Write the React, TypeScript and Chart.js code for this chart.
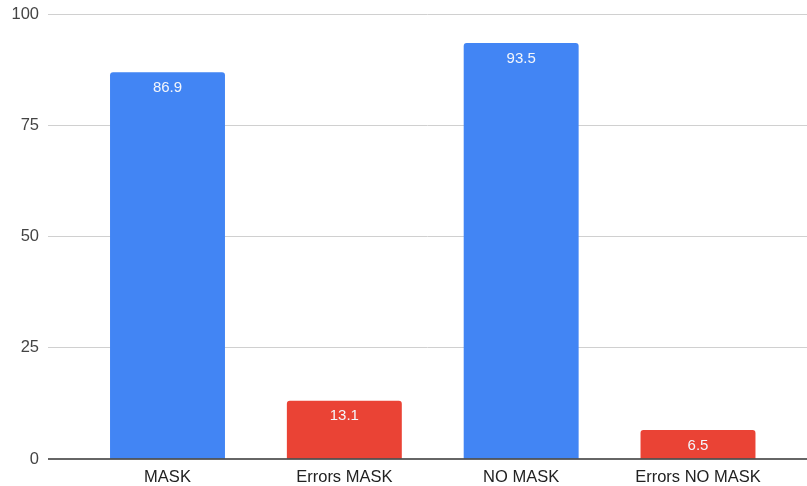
import React, { useEffect, useRef } from "react";
import { Chart, registerables } from "chart.js";

Chart.register(...registerables);

const categories = ["MASK", "Errors MASK", "NO MASK", "Errors NO MASK"];
const values = [86.9, 13.1, 93.5, 6.5];
const barColors = ["#4285F4", "#EA4335", "#4285F4", "#EA4335"];
const yTicks = [0, 25, 50, 75, 100];

const FONT = "'Liberation Sans', Arial, sans-serif";

const overlayPlugin = {
  id: "overlay",
  afterDatasetsDraw(chart: any) {
    const { ctx, chartArea } = chart;
    const y = chart.scales.y;
    ctx.save();
    const py = y.getPixelForValue(0);
    ctx.beginPath();
    ctx.strokeStyle = "#333333";
    ctx.lineWidth = 1.5;
    ctx.moveTo(chartArea.left, py);
    ctx.lineTo(chartArea.right, py);
    ctx.stroke();
    const meta = chart.getDatasetMeta(0);
    ctx.fillStyle = "#f4f6fb";
    ctx.font = `15px ${FONT}`;
    ctx.textAlign = "center";
    ctx.textBaseline = "middle";
    meta.data.forEach((bar: any, i: number) => {
      ctx.fillText(String(values[i]), bar.x, bar.y + 15.5);
    });
    ctx.restore();
  },
};

export default function App() {
  const ref = useRef<HTMLCanvasElement>(null);
  useEffect(() => {
    if (!ref.current) return;
    const chart = new Chart(ref.current, {
      type: "bar",
      data: {
        datasets: [
          {
            data: values.map((v, i) => ({ x: i, y: v })),
            backgroundColor: barColors,
            borderRadius: { topLeft: 3, topRight: 3, bottomLeft: 0, bottomRight: 0 },
            borderSkipped: false,
            barPercentage: 0.65,
            categoryPercentage: 1,
          },
        ],
      },
      options: {
        animation: false,
        responsive: false,
        maintainAspectRatio: false,
        layout: { padding: { top: 14, right: 0, left: 0, bottom: 0 } },
        plugins: { legend: { display: false }, tooltip: { enabled: false } },
        scales: {
          x: {
            type: "linear",
            offset: false,
            min: -0.6758,
            max: 3.6164,
            grid: { display: false, drawTicks: false, offset: false },
            border: { display: false },
            afterBuildTicks(scale: any) {
              scale.ticks = categories.map((_, i) => ({ value: i }));
            },
            ticks: {
              autoSkip: false,
              maxRotation: 0,
              color: "#222222",
              font: { family: FONT, size: 16.5 },
              padding: 9,
              callback: (v: any) => categories[Number(v)] ?? "",
            },
            afterFit(scale: any) {
              scale.height = 27;
            },
          },
          y: {
            min: 0,
            max: 100,
            afterBuildTicks(scale: any) {
              scale.ticks = yTicks.map((v) => ({ value: v }));
            },
            grid: {
              drawTicks: false,
              color: (c: any) => (c.tick && c.tick.value === 0 ? "rgba(0,0,0,0)" : "#d0d0d0"),
              lineWidth: 1,
            },
            border: { display: false },
            ticks: {
              color: "#444444",
              font: { family: FONT, size: 16.5 },
              padding: 9,
            },
            afterFit(scale: any) {
              scale.width = 48;
              scale.paddingTop = 0;
              scale.paddingBottom = 0;
            },
          },
        },
      },
      plugins: [overlayPlugin],
    });
    return () => chart.destroy();
  }, []);
  return (
    <div style={{ position: "absolute", left: 0, top: 0, width: 807, height: 486, background: "#fff" }}>
      <canvas ref={ref} width={807} height={486} style={{ display: "block" }} />
    </div>
  );
}
